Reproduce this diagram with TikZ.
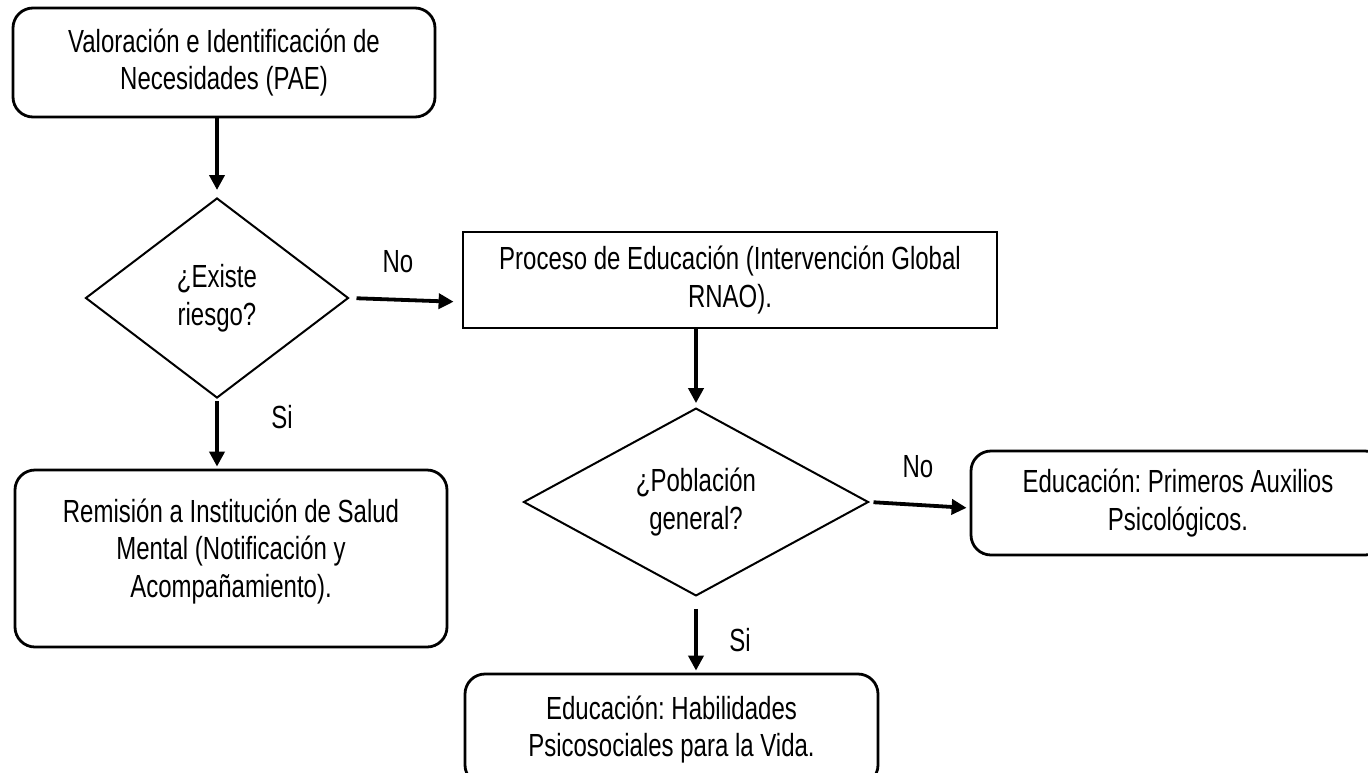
\documentclass[tikz,border=0pt]{standalone}
\usepackage{fontspec}
\setmainfont{Liberation Sans}[FakeStretch=0.75]
\usetikzlibrary{shapes.geometric,arrows.meta}
\frenchspacing
\newcommand\dgfont{\fontsize{32}{37.5}\selectfont\frenchspacing}
\tikzset{
  rbox/.style={draw=black, line width=2.8pt, rounded corners=20pt, align=center, inner sep=0pt},
  sbox/.style={draw=black, line width=2.8pt, align=center, inner sep=0pt},
  dbox/.style={draw=black, line width=2pt, diamond, align=center, inner sep=0pt},
  txt/.style={align=center, inner sep=0pt},
  lbl/.style={inner sep=0pt},
  arr/.style={line width=3.8pt, -{Triangle[length=15pt,width=15pt]}}
}
\begin{document}
\begin{tikzpicture}[x=1pt,y=-1pt,font=\dgfont]
\useasboundingbox (0,0) rectangle (1368,772);
\clip (0,0) rectangle (1368,772);
\fill[white] (0,0) rectangle (1368,772);

\node[rbox, minimum width=422pt, minimum height=109pt] (b1) at (224,62.5)
  {Valoración e Identificación de\\Necesidades (PAE)};

\node[dbox, minimum width=263pt, minimum height=200pt] (d1) at (217,298)
  {¿Existe\\riesgo?};

\node[sbox, minimum width=534pt, minimum height=96pt] (b2) at (730,280)
  {Proceso de Educación (Intervención Global\\RNAO).};

\node[dbox, minimum width=345pt, minimum height=187pt] (d2) at (696,502)
  {¿Población\\general?};

\node[rbox, minimum width=414pt, minimum height=104pt] (b3) at (1178,503)
  {Educación: Primeros Auxilios\\Psicológicos.};

\node[rbox, minimum width=432pt, minimum height=177pt] (rem) at (231,558.5) {};
\node[txt] (remt) at (231,551.5)
  {Remisión a Institución de Salud\\Mental (Notificación y\\Acompañamiento).};

\node[rbox, minimum width=413pt, minimum height=111pt] (b4) at (671.5,729.5)
  {Educación: Habilidades\\Psicosociales para la Vida.};

\node[lbl] (no1) at (398,262) {No};
\node[lbl] (si1) at (282,417) {Si};
\node[lbl] (no2) at (918,467) {No};
\node[lbl] (si2) at (740,640) {Si};

\draw[arr, shorten >=7pt] (d1.north |- b1.south) -- (d1.north);
\draw[arr, shorten <=7pt, shorten >=8pt] (d1.east) -- (b2.west |- 0,302);
\draw[arr, shorten >=4pt] (d2.north |- b2.south) -- (d2.north);
\draw[arr, shorten <=4pt, shorten >=3pt] (d2.east) -- (b3.west |- 0,508);
\draw[arr, shorten <=12pt, shorten >=2pt] (d2.south) -- (d2.south |- b4.north);
\draw[arr, shorten <=2pt, shorten >=2pt] (d1.south) -- (d1.south |- rem.north);
\end{tikzpicture}
\end{document}
